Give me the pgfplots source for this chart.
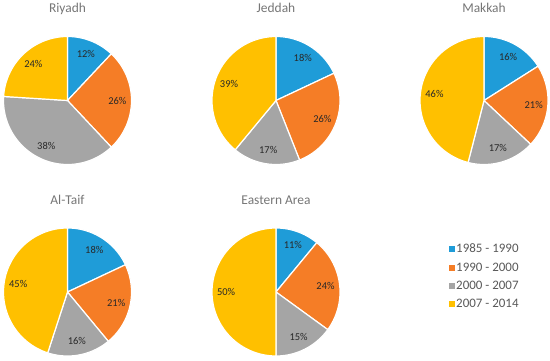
\documentclass[border=0pt]{standalone}
\usepackage{pgfplots}
\pgfplotsset{compat=1.18}
\usepackage{fontspec}
\setmainfont{Carlito}
\definecolor{cA}{RGB}{31,156,216}
\definecolor{cB}{RGB}{245,125,38}
\definecolor{cC}{RGB}{165,165,165}
\definecolor{cD}{RGB}{255,192,0}
\definecolor{ttl}{RGB}{118,118,118}
\definecolor{lbl}{RGB}{40,40,40}
\definecolor{leg}{RGB}{89,89,89}
\pgfplotsset{
  pieaxis/.style={scale only axis, width=128bp, height=128bp,
    xmin=-1, xmax=1, ymin=-1, ymax=1, hide axis, clip=false, anchor=center,
    every axis title/.style={at={(0.5,1)}, anchor=base, yshift=23.5bp,
      font=\fontsize{13.5}{15}\selectfont, text=ttl, inner sep=0pt}},
  slice/.style={draw=white, line width=1.2bp, line join=round, samples=60},
  legend image code/.code={\fill[#1, draw=none] (0bp,-3bp) rectangle (6bp,3bp);},
}
\newcommand{\pie}[8]{%
  \pgfmathsetmacro\aA{90}%
  \pgfmathsetmacro\aB{90-3.6*#4}%
  \pgfmathsetmacro\aC{\aB-3.6*#5}%
  \pgfmathsetmacro\aD{\aC-3.6*#6}%
  \pgfmathsetmacro\aE{\aD-3.6*#7}%
  \pgfmathsetmacro\mA{(\aA+\aB)/2}%
  \pgfmathsetmacro\mB{(\aB+\aC)/2}%
  \pgfmathsetmacro\mC{(\aC+\aD)/2}%
  \pgfmathsetmacro\mD{(\aD+\aE)/2}%
  \begin{axis}[pieaxis, at={(#2,#3)}, title={#1}, #8]
    \addplot[slice, fill=cA, domain=\aB:\aA] ({cos(x)},{sin(x)}) -- (axis cs:0,0) -- cycle;
    \addplot[slice, fill=cB, domain=\aC:\aB] ({cos(x)},{sin(x)}) -- (axis cs:0,0) -- cycle;
    \addplot[slice, fill=cC, domain=\aD:\aC] ({cos(x)},{sin(x)}) -- (axis cs:0,0) -- cycle;
    \addplot[slice, fill=cD, domain=\aE:\aD] ({cos(x)},{sin(x)}) -- (axis cs:0,0) -- cycle;
    \node[font=\fontsize{10.5}{12}\selectfont, text=lbl] at (axis cs:{0.78*cos(\mA)},{0.78*sin(\mA)}) {#4\%};
    \node[font=\fontsize{10.5}{12}\selectfont, text=lbl] at (axis cs:{0.78*cos(\mB)},{0.78*sin(\mB)}) {#5\%};
    \node[font=\fontsize{10.5}{12}\selectfont, text=lbl] at (axis cs:{0.78*cos(\mC)},{0.78*sin(\mC)}) {#6\%};
    \node[font=\fontsize{10.5}{12}\selectfont, text=lbl] at (axis cs:{0.78*cos(\mD)},{0.78*sin(\mD)}) {#7\%};
  \end{axis}}
\begin{document}
\begin{tikzpicture}
\path[use as bounding box] (0,0) rectangle (550bp,361bp);
\pie{Riyadh}{67.5bp}{260.5bp}{12}{26}{38}{24}{}
\pie{Jeddah}{276bp}{260.5bp}{18}{26}{17}{39}{}
\pie{Makkah}{484bp}{260.5bp}{16}{21}{17}{46}{}
\pie{Al-Taif}{67.5bp}{69bp}{18}{21}{16}{45}{}
\pie{Eastern Area}{276bp}{69bp}{11}{24}{15}{50}{legend entries={1985 - 1990, 1990 - 2000, 2000 - 2007, 2007 - 2014},
  legend style={at={(axis description cs:1.848,0.89)}, anchor=north west, draw=none, fill=none,
    font=\fontsize{13}{15}\selectfont, text=leg, inner sep=0pt, row sep=5.5bp,
    nodes={inner sep=1.5bp}}, legend cell align=left}
\end{tikzpicture}
\end{document}
